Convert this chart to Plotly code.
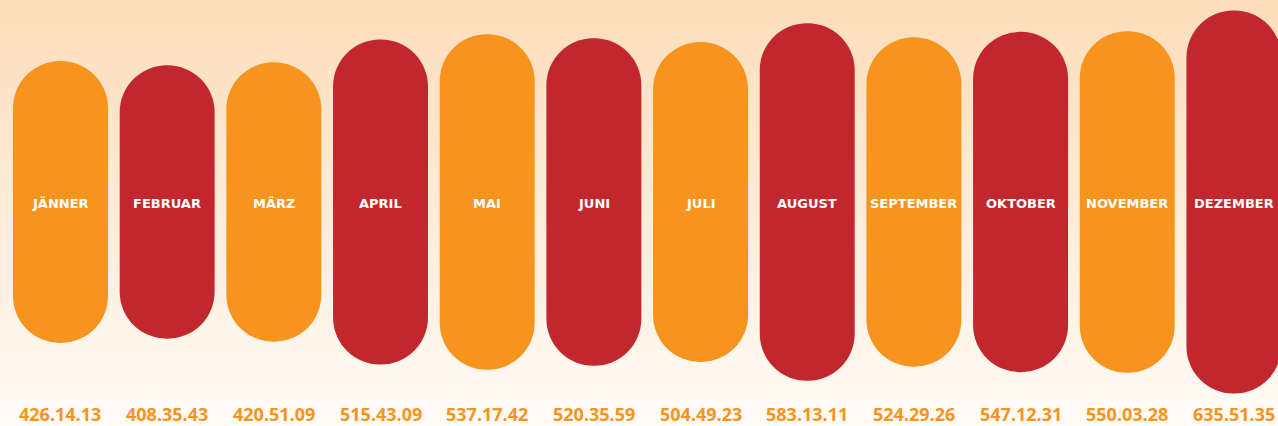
import plotly.graph_objects as go

months = ["JÄNNER", "FEBRUAR", "MÄRZ", "APRIL", "MAI", "JUNI", "JULI",
          "AUGUST", "SEPTEMBER", "OKTOBER", "NOVEMBER", "DEZEMBER"]
durations = ["426.14.13", "408.35.43", "420.51.09", "515.43.09", "537.17.42",
             "520.35.59", "504.49.23", "583.13.11", "524.29.26", "547.12.31",
             "550.03.28", "635.51.35"]
colors = ["#F7941D", "#C1272D"] * 6

# hours as decimal numbers, parsed from the h.mm.ss labels
hours = []
for d in durations:
    h, m, s = d.split(".")
    hours.append(int(h) + int(m) / 60 + int(s) / 3600)

SCALE = 0.483   # pill height per hour (visual)
PAD = 157.4     # visual minimum pill length offset
half = [SCALE * (v + PAD) / 2 for v in hours]

x = list(range(len(months)))

fig = go.Figure()

# background gradient as thin horizontal strips (paper coords)
top_c = (253, 221, 186)
bot_c = (255, 251, 246)
N = 107
for k in range(N):
    t = k / (N - 1)
    c = tuple(round(bot_c[j] + (top_c[j] - bot_c[j]) * t) for j in range(3))
    fig.add_shape(type="rect", xref="paper", yref="paper",
                  x0=0, x1=1, y0=k / N, y1=(k + 1) / N + 0.002,
                  fillcolor="rgb(%d,%d,%d)" % c, line=dict(width=0), layer="below")

fig.add_trace(go.Bar(x=x, y=half, marker=dict(color=colors, cornerradius="50%", line=dict(width=0)),
                     width=0.89, showlegend=False, hovertext=durations, hoverinfo="text"))
fig.add_trace(go.Bar(x=x, y=[-h for h in half], marker=dict(color=colors, cornerradius="50%", line=dict(width=0)),
                     width=0.89, showlegend=False, hovertext=durations, hoverinfo="text"))

for i, (m, d) in enumerate(zip(months, durations)):
    fig.add_annotation(x=i, y=-1, text=m, showarrow=False,
                       font=dict(family="DejaVu Sans", size=13, color="white", weight="bold"),
                       xanchor="center", yanchor="middle")
    fig.add_annotation(x=i, y=-212, text=d, showarrow=False,
                       font=dict(family="Open Sans", size=18, color="#F7941D", weight="bold"),
                       xanchor="center", yanchor="middle")

fig.update_layout(
    width=1278, height=426,
    margin=dict(l=0, r=0, t=0, b=0),
    barmode="relative",
    paper_bgcolor="#FFFBF6", plot_bgcolor="rgba(0,0,0,0)",
    xaxis=dict(range=[-0.567, 11.413], visible=False, fixedrange=True),
    yaxis=dict(range=[-224, 202], visible=False, fixedrange=True),
    showlegend=False,
)

fig.write_html("out.html", config={"displayModeBar": False},
               post_script="document.body.style.margin='0';document.body.style.overflow='hidden';")
